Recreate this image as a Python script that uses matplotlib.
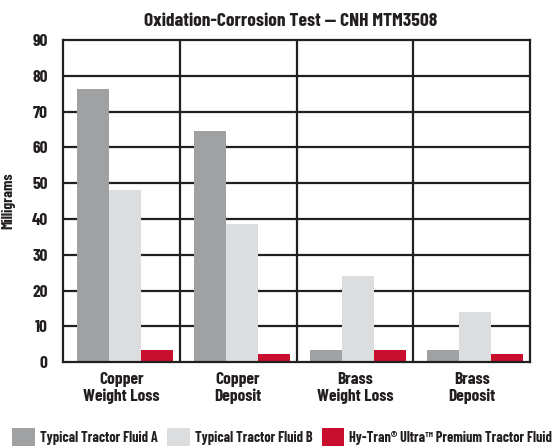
import numpy as np
import matplotlib.pyplot as plt
from matplotlib.patches import Patch

################################################################################
# Data
################################################################################
categories = ["Copper\nWeight Loss", "Copper\nDeposit", "Brass\nWeight Loss", "Brass\nDeposit"]
fluid_a = [76.3, 64.5, 3.3, 3.3]
fluid_b = [48.0, 38.5, 24.0, 14.0]
hytran = [3.3, 2.2, 3.3, 2.2]
series_names = ["Typical Tractor Fluid A", "Typical Tractor Fluid B",
                "Hy-Tran\u00ae Ultra\u2122 Premium Tractor Fluid"]
colors = ["#a0a1a3", "#dcdddf", "#c8102e"]
yticks = list(range(0, 91, 10))

################################################################################
# Plot
################################################################################
plt.rcParams['font.family'] = ['Barlow Condensed', 'DejaVu Sans']
plt.rcParams['font.weight'] = 'bold'
txt_col = "#231f20"
line_col = "#231f20"

fig = plt.figure(figsize=(5.59, 4.46), dpi=100)
ax = fig.add_axes([0.1127, 0.188, 0.8355, 0.722])

x = np.arange(len(categories))
w = 0.274
for i, (vals, c) in enumerate(zip([fluid_a, fluid_b, hytran], colors)):
    ax.bar(x + (i - 1) * w + 0.03, vals, width=w, color=c, zorder=1, linewidth=0)

ax.set_xlim(-0.5, len(categories) - 0.5)
ax.set_ylim(0, 90)
ax.set_yticks(yticks)
for yv in yticks[1:-1]:
    ax.axhline(yv, color=line_col, lw=1.6, zorder=0.5)
for xv in x[:-1] + 0.5:
    ax.axvline(xv, color=line_col, lw=1.6, zorder=2)
for s in ax.spines.values():
    s.set_color(line_col)
    s.set_linewidth(1.6)
    s.set_zorder(3)

ax.set_xticks(x)
ax.set_xticklabels(categories, fontsize=12.5, linespacing=1.1)
ax.tick_params(axis='x', length=0, pad=7, colors=txt_col)
ax.tick_params(axis='y', length=0, pad=11, labelsize=12.5, colors=txt_col)
ax.set_ylabel("Milligrams", fontsize=11, fontweight='bold', color=txt_col)
ax.yaxis.set_label_coords(-0.103, 0.5)
ax.set_title("Oxidation-Corrosion Test \u2014 CNH MTM3508", fontsize=14,
             fontweight='bold', pad=10, color=txt_col, x=0.487)

handles = [Patch(facecolor=c, edgecolor='none') for c in colors]
leg = fig.legend(handles, series_names, loc='center', bbox_to_anchor=(0.505, 0.0202),
                 ncol=3, frameon=False, fontsize=10.3, handlelength=1.55, handleheight=1.6,
                 columnspacing=0.7, handletextpad=0.35, borderpad=0, borderaxespad=0)
for t in leg.get_texts():
    t.set_color(txt_col)

fig.savefig('out.png', dpi=100)
